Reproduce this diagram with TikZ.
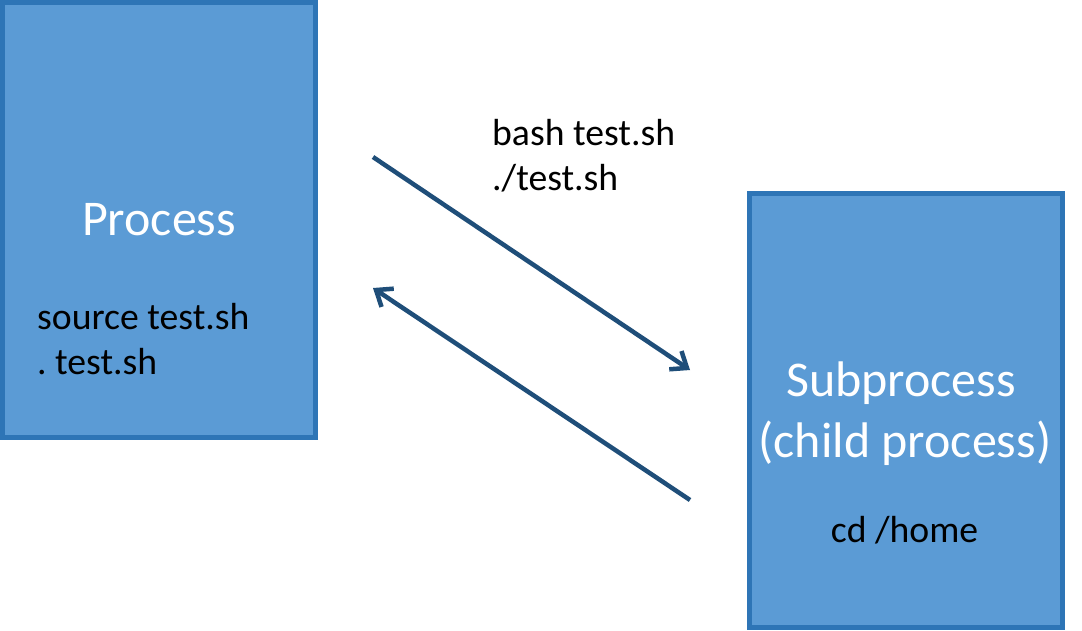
\documentclass[tikz,border=0pt]{standalone}
\usepackage{fontspec}
\setmainfont{Carlito}
\usepackage{tikz}
\usetikzlibrary{arrows.meta}
\definecolor{boxfill}{HTML}{5B9BD5}
\definecolor{boxline}{HTML}{2E75B6}
\definecolor{arrowblue}{HTML}{1F4E79}
\frenchspacing

\begin{document}
\begin{tikzpicture}[x=1pt,y=-1pt]
\tikzset{procbox/.style = {shape=rectangle,draw=boxline,fill=boxfill,line width=5pt,inner sep=0pt}}
\tikzset{title/.style = {text=white,inner sep=0pt,font=\fontsize{50}{60}\selectfont}}
\tikzset{cmd/.style = {text=black,inner sep=0pt,font=\fontsize{37.7}{45}\selectfont}}
\tikzset{edge/.style = {draw=arrowblue,line width=4.5pt,-{Straight Barb[length=14pt,width=22pt]}}}
\useasboundingbox (0,0) rectangle (1082,630);
% boxes
\node[procbox,minimum width=313pt,minimum height=435pt] (proc) at (159,220) {};
\node[procbox,minimum width=313pt,minimum height=434pt] (sub) at (906,410.5) {};
% texts
\node[title,anchor=base] (proctitle) at (159,235) {Process};
\node[cmd,anchor=base west] (src1) at (37,329.5) {source test.sh};
\node[cmd,anchor=base west] (src2) at (37,374.5) {. test.sh};
\node[cmd,anchor=base west] (run1) at (492,145) {bash test.sh};
\node[cmd,anchor=base west] (run2) at (492,190) {./test.sh};
\node[title,anchor=base] (subtitle1) at (901,396) {Subprocess};
\node[title,anchor=base] (subtitle2) at (905,457) {(child process)};
\node[cmd,anchor=base] (cdhome) at (904.5,542.5) {cd /home};
% arrow ends
\coordinate (fwdstart) at (373,157);
\coordinate (fwdend) at (690,370);
\coordinate (backstart) at (690,500);
\coordinate (backend) at (373,288);
%edges
\draw[edge] (fwdstart) to (fwdend);
\draw[edge] (backstart) to (backend);
\end{tikzpicture}
\end{document}
